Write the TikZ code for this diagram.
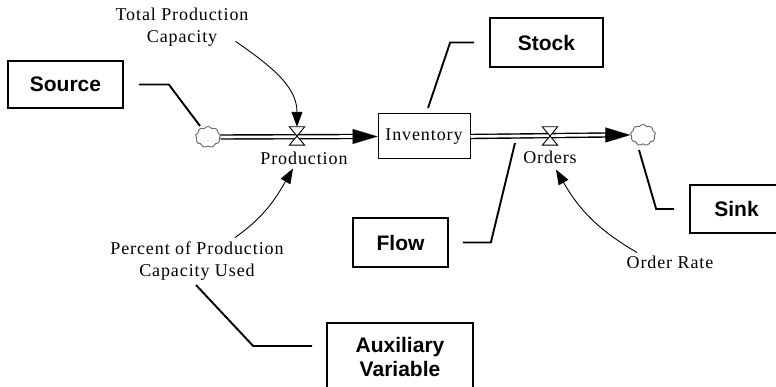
\documentclass[tikz,border=0pt]{standalone}
\usepackage{fontspec}
\setmainfont{Liberation Serif}[LetterSpace=5]
\setsansfont{Liberation Sans}
\usetikzlibrary{shapes.symbols,arrows.meta}

\begin{document}
\begin{tikzpicture}[x=1pt,y=-1pt,
note box/.style = {draw, line width=1.7pt, inner sep=0pt,
     font=\sffamily\bfseries\fontsize{21}{24}\selectfont, align=center},
stock box/.style = {draw, line width=1pt,
     minimum width=92pt, minimum height=45pt},
var/.style = {font=\fontsize{18}{22}\selectfont, align=center, inner sep=0pt},
puff/.style = {cloud, cloud puffs=9, cloud puff arc=120, aspect=1.2,
     draw=black!60, line width=0.9pt,
     minimum width=25pt, minimum height=21pt, inner sep=0pt},
pipe/.style = {double, line width=1.4pt, double distance=2.6pt},
pipe tip/.style = {line width=0.1pt, -{Triangle[length=25pt,width=15pt]}},
link/.style = {line width=0.9pt, -{Triangle[length=15pt,width=11pt]}},
leader/.style = {line width=1.9pt},
valve/.style = {draw, fill=white, line width=0.9pt}]

\useasboundingbox (0,0) rectangle (776,387);
\clip (0,0) rectangle (776,387);

% notes
\node[note box, minimum width=115pt, minimum height=47pt] (source) at (65.5,84.5) {Source};
\node[note box, minimum width=113pt, minimum height=49pt] (stock) at (546.5,42.5) {Stock};
\node[note box, minimum width=95pt, minimum height=49pt] (flow) at (400.5,242.5) {Flow};
\node[note box, minimum width=93pt, minimum height=48pt] (sink) at (736.5,209) {Sink};
\node[note box, minimum width=146pt, minimum height=68pt] (aux) at (400,357) {Auxiliary\\Variable};

% stock and flows
\node[stock box, var] (inv) at (424,136.5) {Inventory};
\node[puff] (src cloud) at (208,137) {};
\node[puff] (sink cloud) at (643,135) {};
\node[inner sep=0pt, minimum width=15pt, minimum height=18pt] (prodv) at (297,136) {};
\node[inner sep=0pt, minimum width=15pt, minimum height=18pt] (ordv) at (550,136) {};

\draw[pipe] (src cloud.east) -- ([xshift=-24pt]inv.west);
\draw[pipe tip] ([xshift=-25pt]inv.west) -- (inv.west);
\draw[pipe] (inv.east) -- ([xshift=-24pt]sink cloud.west);
\draw[pipe tip] ([xshift=-25pt]sink cloud.west) -- (sink cloud.west);
\foreach \v in {prodv,ordv} {
    \draw[valve] (\v.north west) -- (\v.north east) -- (\v.south west) -- (\v.south east) -- cycle;
  }

% variables
\node[var] (prod) at (304,158) {Production};
\node[var] (orders) at (550,157) {Orders};
\node[var] (tpc) at (182,27) {Total Production\\Capacity};
\node[var] (pct) at (197,261) {Percent of Production\\Capacity Used};
\node[var] (orate) at (670,262) {Order Rate};

\draw[link] ([xshift=-13pt,yshift=5pt]tpc.south east) to[out=-35,in=90] (prodv.north);
\draw[link] ([xshift=38pt,yshift=4pt]pct.north) to[out=35,in=-120] ([xshift=-11pt,yshift=-4pt]prod.south);
\draw[link] ([xshift=-33pt,yshift=3pt]orate.north) to[out=150,in=-60] ([xshift=6pt,yshift=-6pt]orders.south);

% leaders
\coordinate (src tag) at (200,126);
\coordinate (inv tag) at (428,108);
\coordinate (flow tag) at (515,143);
\coordinate (sink tag) at (639,150);
\coordinate (pct tag) at (196,285);
\draw[leader] ([xshift=15pt]source.east) -- ++(30,0) -- (src tag);
\draw[leader] ([xshift=-15pt]stock.west) -- ++(-24,0) -- (inv tag);
\draw[leader] ([xshift=14pt]flow.east) -- ++(28,0) -- (flow tag);
\draw[leader] ([xshift=-15pt]sink.west) -- ++(-18,0) -- (sink tag);
\draw[leader] ([xshift=-14pt,yshift=11pt]aux.west) -- ++(-59,0) -- (pct tag);

\end{tikzpicture}
\end{document}
